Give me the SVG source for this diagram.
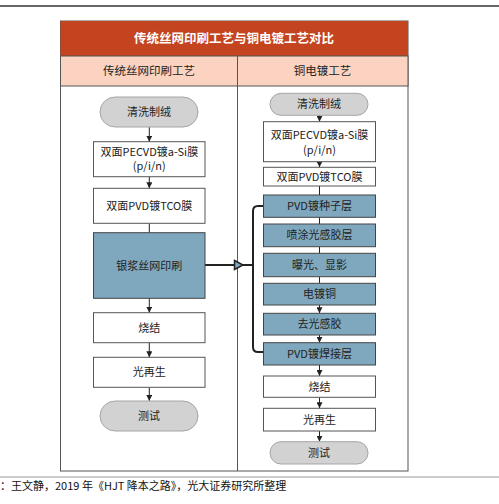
<svg xmlns="http://www.w3.org/2000/svg" width="499" height="504" viewBox="0 0 499 504">
<style>
text{font-family:"Noto Sans CJK SC","Noto Sans",sans-serif;fill:#222;text-anchor:middle}
.t{font-size:11px}
.pill{fill:#d2d2d2;stroke:#a6a6a6;stroke-width:1}
.box{fill:#fff;stroke:#555;stroke-width:1}
.blue{fill:#7fa8be;stroke:#444;stroke-width:1}
.ln{stroke:#222;stroke-width:1;fill:none}
</style>
<defs>
<marker id="ah" viewBox="0 0 6 6" refX="6" refY="3" markerWidth="6" markerHeight="6" markerUnits="userSpaceOnUse" orient="auto">
<path d="M0,0 L6,3 L0,6 z" fill="#222"/>
</marker>
</defs>
<rect width="499" height="504" fill="#fff"/>
<line x1="0" y1="6" x2="499" y2="6" stroke="#333" stroke-width="1.5"/>
<g id="frame">
<rect x="60.5" y="21" width="347.5" height="450" fill="#fff" stroke="#555" stroke-width="1"/>
<rect x="60.5" y="21" width="347.5" height="35" fill="#c4441f"/>
<rect x="60.5" y="56" width="347.5" height="30" fill="#fcd3c0" stroke="#555" stroke-width="1"/>
<line x1="237.5" y1="56" x2="237.5" y2="471" stroke="#555" stroke-width="1"/>
<text x="234" y="43" style="font-size:12.5px;fill:#fff;font-weight:bold">传统丝网印刷工艺与铜电镀工艺对比</text>
<text x="149" y="75" style="font-size:11.5px">传统丝网印刷工艺</text>
<text x="322.5" y="75" style="font-size:11.5px">铜电镀工艺</text>
</g>
<g id="connectors">
<line class="ln" x1="149.3" y1="127" x2="149.3" y2="141.7" marker-end="url(#ah)"/>
<line class="ln" x1="149.3" y1="176.7" x2="149.3" y2="188.3" marker-end="url(#ah)"/>
<line class="ln" x1="149.3" y1="223.3" x2="149.3" y2="232.7"/>
<line class="ln" x1="149.3" y1="298.3" x2="149.3" y2="312.7" marker-end="url(#ah)"/>
<line class="ln" x1="149.3" y1="342.7" x2="149.3" y2="357.3" marker-end="url(#ah)"/>
<line class="ln" x1="149.3" y1="387.3" x2="149.3" y2="401" marker-end="url(#ah)"/>
<line class="ln" x1="319.5" y1="115" x2="319.5" y2="121.7" marker-end="url(#ah)"/>
<line class="ln" x1="319.5" y1="161.7" x2="319.5" y2="167.3" marker-end="url(#ah)"/>
<line class="ln" x1="319.5" y1="186" x2="319.5" y2="195"/>
<line class="ln" x1="319.5" y1="217.3" x2="319.5" y2="224"/>
<line class="ln" x1="319.5" y1="246.7" x2="319.5" y2="253.3"/>
<line class="ln" x1="319.5" y1="276.7" x2="319.5" y2="283.3"/>
<line class="ln" x1="319.5" y1="305" x2="319.5" y2="313.3" marker-end="url(#ah)"/>
<line class="ln" x1="319.5" y1="335" x2="319.5" y2="342.7" marker-end="url(#ah)"/>
<line class="ln" x1="319.5" y1="365" x2="319.5" y2="376" marker-end="url(#ah)"/>
<line class="ln" x1="319.5" y1="397.3" x2="319.5" y2="408.3" marker-end="url(#ah)"/>
<line class="ln" x1="319.5" y1="431" x2="319.5" y2="441.7" marker-end="url(#ah)"/>
<path d="M263.5,206 H258 Q253,206 253,211 V347 Q253,352 258,352 H263.5" fill="none" stroke="#222" stroke-width="2"/>
<line x1="205" y1="265" x2="253" y2="265" stroke="#222" stroke-width="1.8"/>
<path d="M234.5,260.5 L243,265 L234.5,269.5 z" fill="#7fa8be" stroke="#222" stroke-width="1.5"/>
</g>
<g id="L1"><rect class="pill" x="100" y="97" width="98" height="30" rx="15"/><text class="t" x="149" y="116">清洗制绒</text></g>
<g id="L2"><rect class="box" x="93.5" y="141.7" width="111.5" height="35"/><text class="t" x="149.3" y="155.5">双面PECVD镀a-Si膜</text><text class="t" x="149.3" y="170">(p/i/n)</text></g>
<g id="L3"><rect class="box" x="93.5" y="188.3" width="111.5" height="35"/><text class="t" x="149.3" y="209.8">双面PVD镀TCO膜</text></g>
<g id="L4"><rect class="blue" x="93.5" y="232.7" width="111.5" height="65.6"/><text class="t" x="149.3" y="269.5">银浆丝网印刷</text></g>
<g id="L5"><rect class="box" x="93.5" y="312.7" width="111.5" height="30"/><text class="t" x="149.3" y="331.7">烧结</text></g>
<g id="L6"><rect class="box" x="93.5" y="357.3" width="111.5" height="30"/><text class="t" x="149.3" y="376.3">光再生</text></g>
<g id="L7"><rect class="pill" x="100" y="401" width="98" height="30" rx="15"/><text class="t" x="149" y="420">测试</text></g>
<g id="R1"><rect class="pill" x="270" y="93.3" width="98" height="22" rx="11"/><text class="t" x="319" y="108.3">清洗制绒</text></g>
<g id="R2"><rect class="box" x="263.5" y="121.7" width="112" height="40"/><text class="t" x="319.5" y="139">双面PECVD镀a-Si膜</text><text class="t" x="319.5" y="154">(p/i/n)</text></g>
<g id="R3"><rect class="box" x="263.5" y="167.3" width="112" height="18.7"/><text class="t" x="319.5" y="180.7">双面PVD镀TCO膜</text></g>
<g id="R4"><rect class="blue" x="263.5" y="195" width="112" height="22.3"/><text class="t" x="319.5" y="210">PVD镀种子层</text></g>
<g id="R5"><rect class="blue" x="263.5" y="224" width="112" height="22.7"/><text class="t" x="319.5" y="239.3">喷涂光感胶层</text></g>
<g id="R6"><rect class="blue" x="263.5" y="253.3" width="112" height="23.4"/><text class="t" x="319.5" y="269">曝光、显影</text></g>
<g id="R7"><rect class="blue" x="263.5" y="283.3" width="112" height="21.7"/><text class="t" x="319.5" y="298">电镀铜</text></g>
<g id="R8"><rect class="blue" x="263.5" y="313.3" width="112" height="21.7"/><text class="t" x="319.5" y="328">去光感胶</text></g>
<g id="R9"><rect class="blue" x="263.5" y="342.7" width="112" height="22.3"/><text class="t" x="319.5" y="357.8">PVD镀焊接层</text></g>
<g id="R10"><rect class="box" x="263.5" y="376" width="112" height="21.3"/><text class="t" x="319.5" y="390.7">烧结</text></g>
<g id="R11"><rect class="box" x="263.5" y="408.3" width="112" height="22.7"/><text class="t" x="319.5" y="423.7">光再生</text></g>
<g id="R12"><rect class="pill" x="270" y="441.7" width="98" height="22.3" rx="11"/><text class="t" x="319" y="456.8">测试</text></g>
<line x1="0" y1="477" x2="499" y2="477" stroke="#999" stroke-width="1"/>
<text x="0" y="490" style="font-size:11px;text-anchor:start;fill:#111">：王文静，2019 年《HJT 降本之路》，光大证券研究所整理</text>
</svg>
